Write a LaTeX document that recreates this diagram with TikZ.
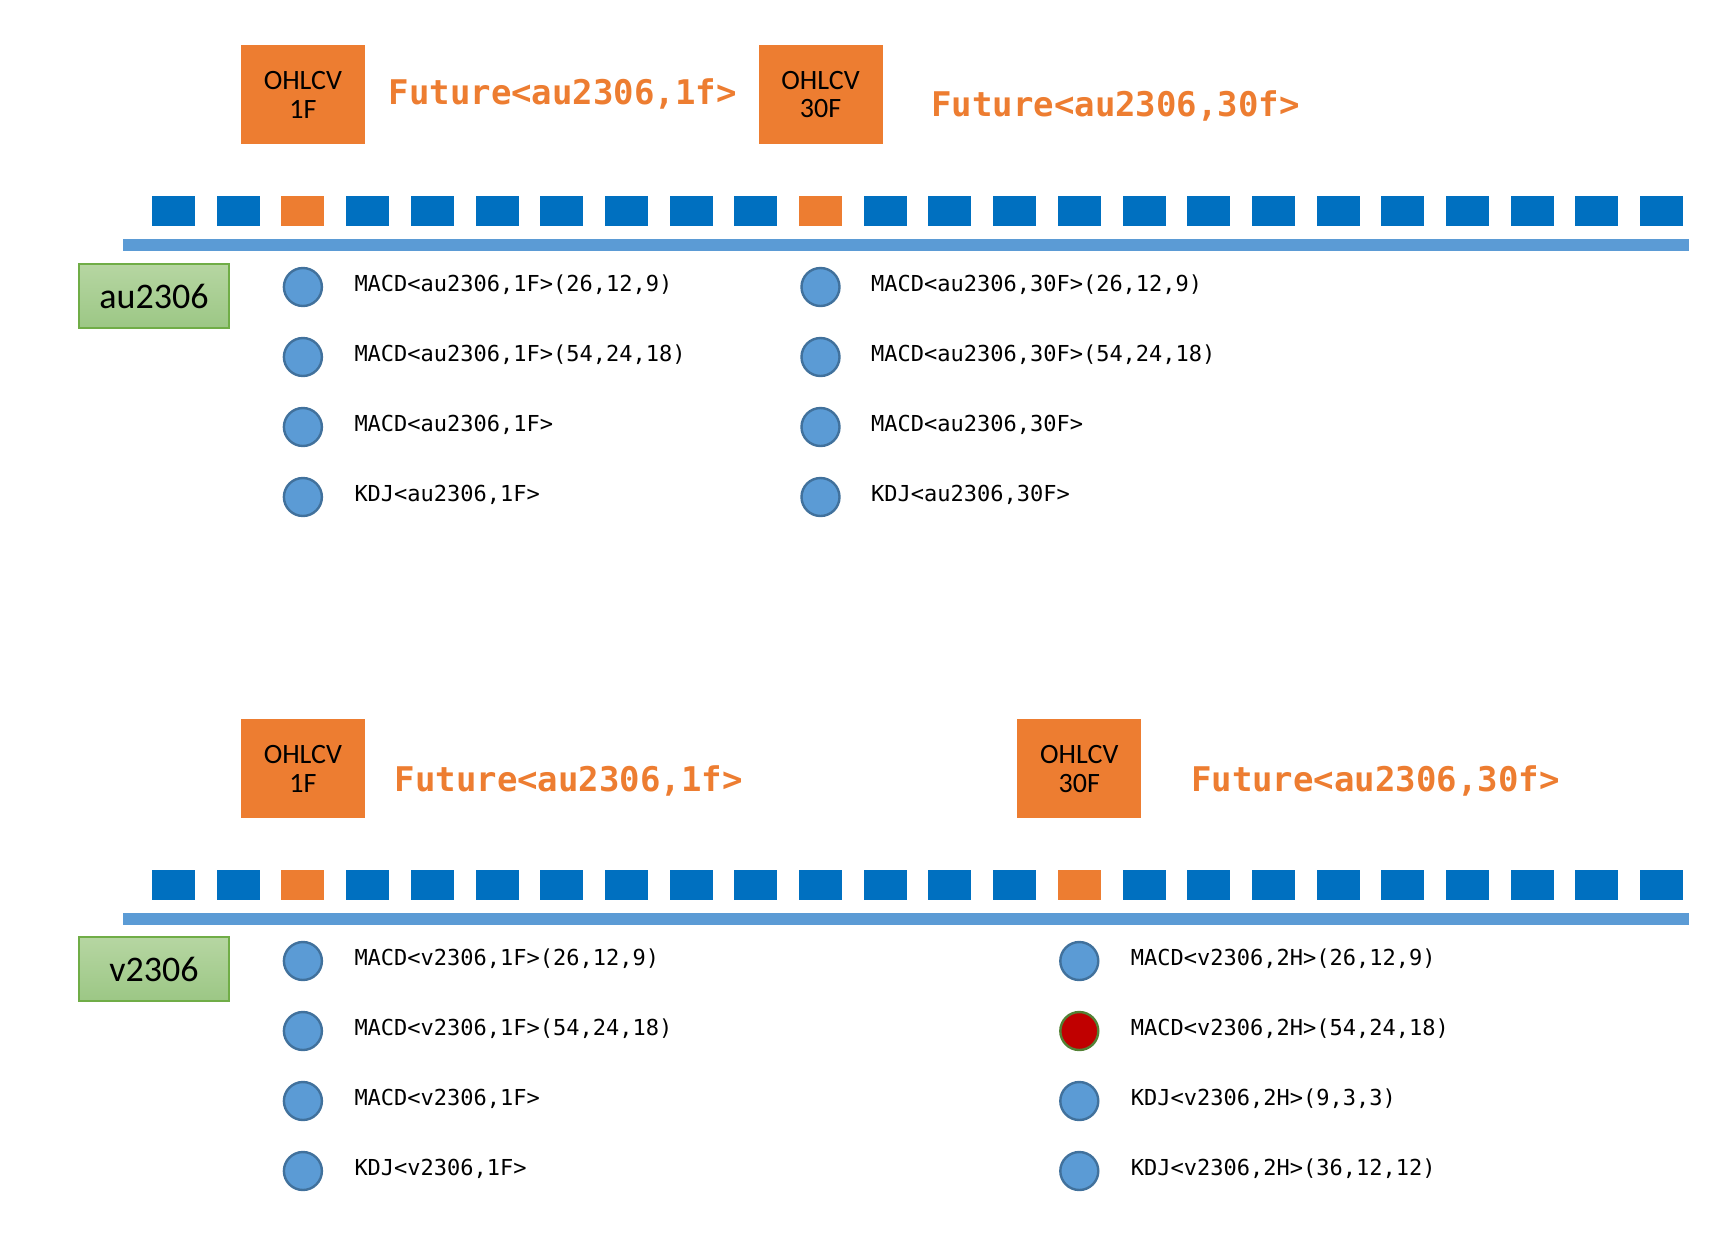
\documentclass[tikz,border=0pt]{standalone}
\usepackage{fontspec}
\setmainfont{Carlito}
\setmonofont{DejaVu Sans Mono}
\usetikzlibrary{positioning}

\definecolor{barorange}{HTML}{ED7D31}
\definecolor{barblue}{HTML}{0070C0}
\definecolor{lineblue}{HTML}{5B9BD5}
\definecolor{dotblue}{HTML}{5B9BD5}
\definecolor{dotedge}{HTML}{41719C}
\definecolor{alertred}{HTML}{C00000}
\definecolor{alertedge}{HTML}{538135}
\definecolor{leafgreen}{HTML}{70AD47}
\definecolor{leaftop}{HTML}{B6D6A2}
\definecolor{leafbot}{HTML}{9CC785}

\begin{document}
\begin{tikzpicture}[x=0.5pt, y=-0.5pt,
    slot/.style={minimum width=21.5pt, minimum height=15pt, inner sep=0pt},
    ohlcv/.style={fill=barorange, minimum width=62pt, minimum height=49.5pt, inner sep=0pt, align=center, font=\fontsize{14}{14.3}\selectfont},
    future/.style={text=barorange, inner sep=0pt, text height=12.4pt, text depth=0pt, font=\ttfamily\bfseries\fontsize{17}{17}\selectfont},
    ticker/.style={draw=leafgreen, line width=1pt, top color=leaftop, bottom color=leafbot, minimum width=75pt, minimum height=32pt, inner sep=0pt, font=\fontsize{18}{18}\selectfont},
    dot/.style={circle, line width=1.2pt, minimum size=19pt, inner sep=0pt},
    item/.style={inner sep=0pt, text height=8pt, text depth=0pt, font=\ttfamily\fontsize{11}{11}\selectfont},
    timeline/.style={draw=lineblue, line width=6pt}
  ]
        \useasboundingbox (0,0) rectangle (1734,1248);

        % Draw the two bar timelines
        \foreach \dy/\oa/\ob [count=\s] in {0/2/10, 674/2/14}
        {
          \foreach \i in {0,...,23}
          {
            \def\tint{barblue}
            \ifnum\i=\oa \def\tint{barorange}\fi
            \ifnum\i=\ob \def\tint{barorange}\fi
            \node[slot, fill=\tint] (s\s-\i) at ({173.5+64.7*\i}, {211+\dy}) {};
          }
          \coordinate (ls\s) at (123, {245+\dy});
          \coordinate (le\s) at (1689, {245+\dy});
          \draw[timeline] (ls\s) -- (le\s);
        }

        % OHLCV bars above the timelines
        \node[ohlcv, above=25.5pt of s1-2] (oh1a) {OHLCV\\1F};
        \node[ohlcv, above=25.5pt of s1-10] (oh1b) {OHLCV\\30F};
        \node[ohlcv, above=25.5pt of s2-2] (oh2a) {OHLCV\\1F};
        \node[ohlcv, above=25.5pt of s2-14] (oh2b) {OHLCV\\30F};

        % Future names
        \node[future, right=11.5pt of oh1a, yshift=1.25pt] (fu1a) {Future<au2306,1f>};
        \node[future, right=24pt of oh1b, yshift=-4.5pt] (fu1b) {Future<au2306,30f>};
        \node[future, right=14.5pt of oh2a, yshift=-5.25pt] (fu2a) {Future<au2306,1f>};
        \node[future, right=24.5pt of oh2b, yshift=-5.25pt] (fu2b) {Future<au2306,30f>};

        % Symbol labels
        \node[ticker] (tk1) at (154, 296) {au2306};
        \node[ticker] (tk2) at (154, 969) {v2306};

        % Indicators of au2306
        \foreach \lbl [count=\r] in {{MACD<au2306,1F>(26,12,9)}, {MACD<au2306,1F>(54,24,18)}, {MACD<au2306,1F>}, {KDJ<au2306,1F>}}
        {
          \path (s1-2) ++(0, {6+70*\r}) node[dot, fill=dotblue, draw=dotedge] (d1a-\r) {};
          \node[item, right=15.5pt of d1a-\r, yshift=2pt] (t1a-\r) {\lbl};
        }
        \foreach \lbl [count=\r] in {{MACD<au2306,30F>(26,12,9)}, {MACD<au2306,30F>(54,24,18)}, {MACD<au2306,30F>}, {KDJ<au2306,30F>}}
        {
          \path (s1-10) ++(0, {6+70*\r}) node[dot, fill=dotblue, draw=dotedge] (d1b-\r) {};
          \node[item, right=15pt of d1b-\r, yshift=2pt] (t1b-\r) {\lbl};
        }

        % Indicators of v2306
        \foreach \lbl [count=\r] in {{MACD<v2306,1F>(26,12,9)}, {MACD<v2306,1F>(54,24,18)}, {MACD<v2306,1F>}, {KDJ<v2306,1F>}}
        {
          \path (s2-2) ++(0, {6+70*\r}) node[dot, fill=dotblue, draw=dotedge] (d2a-\r) {};
          \node[item, right=15.5pt of d2a-\r, yshift=2pt] (t2a-\r) {\lbl};
        }
        \foreach \lbl/\fillc/\edgec [count=\r] in {{MACD<v2306,2H>(26,12,9)}/dotblue/dotedge, {MACD<v2306,2H>(54,24,18)}/alertred/alertedge, {KDJ<v2306,2H>(9,3,3)}/dotblue/dotedge, {KDJ<v2306,2H>(36,12,12)}/dotblue/dotedge}
        {
          \path (s2-14) ++(0, {6+70*\r}) node[dot, fill=\fillc, draw=\edgec] (d2b-\r) {};
          \node[item, right=15.5pt of d2b-\r, yshift=2pt] (t2b-\r) {\lbl};
        }
      \end{tikzpicture}
\end{document}
